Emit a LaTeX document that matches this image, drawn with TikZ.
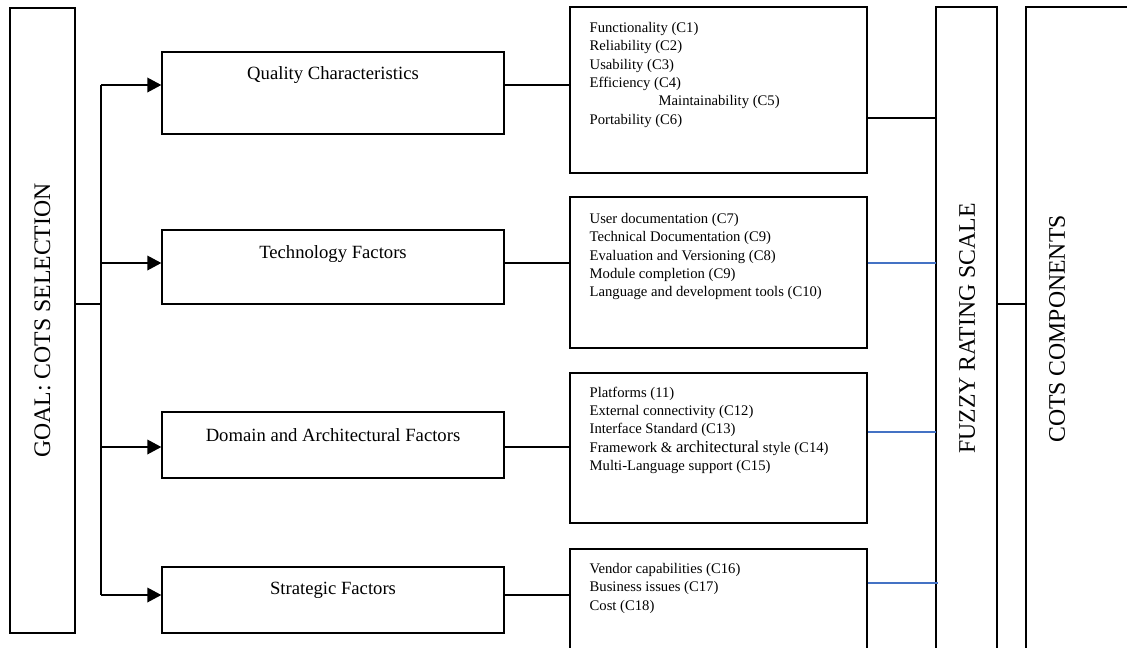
\documentclass[tikz,border=0pt]{standalone}
\usepackage{fontspec}
\setmainfont{Liberation Serif}
\usepackage{xcolor}
\usetikzlibrary{arrows.meta}
\definecolor{linkblue}{HTML}{4472C4}

\begin{document}
\begin{tikzpicture}[
  x=0.75pt, y=-0.75pt, line width=1pt,
  box/.style={draw,rectangle,inner sep=0pt},
  factor/.style={box,minimum width=256.5pt},
  critbox/.style={box,minimum width=222.75pt},
  lbl/.style={inner sep=0pt,font=\fontsize{14}{16}\selectfont},
  crit/.style={inner sep=0pt,align=left,anchor=north west,font=\fontsize{11}{13.8}\selectfont},
  tall/.style={inner sep=0pt,rotate=90,font=\fontsize{17.8}{20}\selectfont},
  arr/.style={-{Triangle[length=10.5pt,width=11pt]}},
  blueline/.style={draw=linkblue,line width=0.8pt}
]
  \clip (0,0) rectangle (1127,647);

  % goal column
  \node[box,minimum width=48.75pt,minimum height=468.75pt] (goal) at (42.5,320.5) {};
  \node[tall] (goaltxt) at (goal) {GOAL: COTS SELECTION};

  % factor boxes
  \node[factor,minimum height=61.5pt] (qual) at (333,93) {};
  \node[factor,minimum height=55.5pt] (tech) at (333,267) {};
  \node[factor,minimum height=49.5pt] (dom) at (333,445) {};
  \node[factor,minimum height=49.5pt] (strat) at (333,600) {};
  \node[lbl] (qualtxt) at (333,75) {Quality Characteristics};
  \node[lbl] (techtxt) at (333,254) {Technology Factors};
  \node[lbl] (domtxt) at (333,435) {Domain and Architectural Factors};
  \node[lbl] (strattxt) at (333,590) {Strategic Factors};

  % criteria boxes
  \node[critbox,minimum height=124.5pt] (c1) at (718.5,90) {};
  \node[critbox,minimum height=113.25pt] (c2) at (718.5,272.5) {};
  \node[critbox,minimum height=112.5pt] (c3) at (718.5,448) {};
  \node[critbox,minimum height=113.25pt] (c4) at (718.5,624.5) {};
  \node[crit] (c1txt) at (589,21.5) {Functionality (C1)\\Reliability (C2)\\Usability (C3)\\Efficiency (C4)\\
    \hspace*{51.75pt}Maintainability (C5)\\Portability (C6)};
  \node[crit] (c2txt) at (589,212.5) {User documentation (C7)\\Technical Documentation (C9)\\
    Evaluation and Versioning (C8)\\Module completion (C9)\\Language and development tools (C10)};
  \node[crit] (c3txt) at (589,386) {Platforms (11)\\External connectivity (C12)\\Interface Standard (C13)\\
    Framework \& {\fontsize{12.5}{13.8}\selectfont architectural} style (C14)\\Multi-Language support (C15)};
  \node[crit] (c4txt) at (589,562.5) {Vendor capabilities (C16)\\Business issues (C17)\\Cost (C18)};

  % right columns
  \node[box,minimum width=45.75pt,minimum height=519.75pt] (fuzzy) at (966.5,353.5) {};
  \node[box,minimum width=100.5pt,minimum height=519.75pt] (cots) at (1093,353.5) {};
  \node[tall] (fuzzytxt) at (967,328.5) {FUZZY RATING SCALE};
  \node[tall] (cotstxt) at (1057,329) {COTS COMPONENTS};

  % bus from the goal
  \coordinate (trunk) at (101,304);
  \coordinate (a1) at (101,85);
  \coordinate (a2) at (101,263);
  \coordinate (a3) at (101,447);
  \coordinate (a4) at (101,595);
  \draw (goal.east |- trunk) -- (trunk);
  \draw (a1) -- (a4);
  \draw[arr] (a1) -- (a1 -| qual.west);
  \draw[arr] (a2) -- (a2 -| tech.west);
  \draw[arr] (a3) -- (a3 -| dom.west);
  \draw[arr] (a4) -- (a4 -| strat.west);

  % factors to criteria
  \draw (a1 -| qual.east) -- (a1 -| c1.west);
  \draw (a2 -| tech.east) -- (a2 -| c2.west);
  \draw (a3 -| dom.east) -- (a3 -| c3.west);
  \draw (a4 -| strat.east) -- (a4 -| c4.west);

  % criteria to rating scale
  \coordinate (f1) at (936,118);
  \coordinate (f2) at (936,263);
  \coordinate (f3) at (936,432);
  \coordinate (f4) at (938,583);
  \draw (f1 -| c1.east) -- (f1);
  \draw[blueline] (f2 -| c2.east) -- (f2);
  \draw[blueline] (f3 -| c3.east) -- (f3);
  \draw[blueline] (f4 -| c4.east) -- (f4);
  \draw (fuzzy.east |- trunk) -- (trunk -| cots.west);
\end{tikzpicture}
\end{document}
